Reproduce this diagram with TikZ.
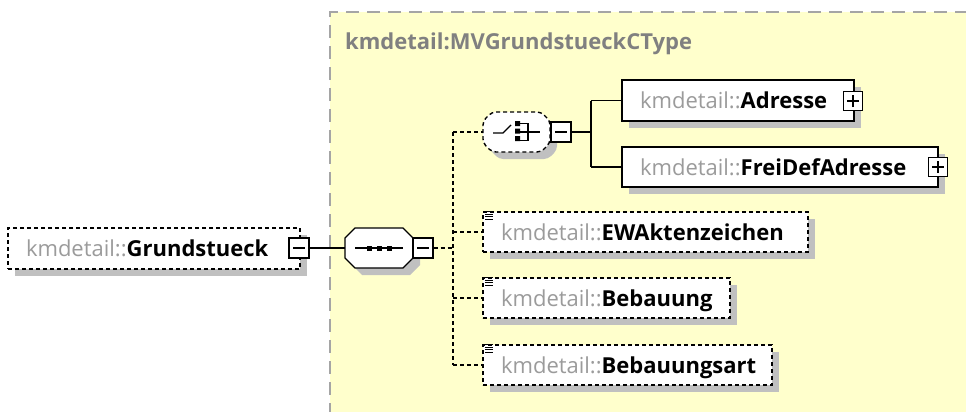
\documentclass[tikz,border=0pt]{standalone}
\usepackage{fontspec}
\setmainfont{Open Sans}
\usetikzlibrary{shadows}
\definecolor{bgyellow}{RGB}{255,255,204}
\definecolor{pfx}{RGB}{155,155,155}
\definecolor{ttl}{RGB}{128,128,128}
\definecolor{shd}{RGB}{192,192,192}
\definecolor{frm}{RGB}{165,165,165}
\newcommand\elname[1]{{\color{pfx}kmdetail::}\textbf{#1}}
\tikzset{
  shad/.style={drop shadow={shadow xshift=7pt,shadow yshift=-7pt,fill=shd,opacity=1}},
  elem/.style={rectangle,draw=black,line width=1.4pt,fill=white,shad,
    inner xsep=18pt,inner ysep=0pt,align=left,text height=16pt,text depth=0pt,
    font=\fontsize{22}{26}\selectfont},
  optelem/.style={elem,dash pattern=on 4pt off 3pt},
  pmbox/.style={rectangle,draw=black,line width=1.4pt,fill=white,minimum size=20pt,inner sep=0pt},
  conn/.style={line width=1.4pt},
  dconn/.style={line width=1.4pt,dash pattern=on 4pt off 3pt},
  ghost/.style={rectangle,inner sep=0pt},
}
\newcommand\minussign[1]{\draw[line width=1.4pt] ([xshift=-6pt]#1.center) -- ([xshift=6pt]#1.center);}
\newcommand\plussign[1]{\draw[line width=1.4pt] ([xshift=-6pt]#1.center) -- ([xshift=6pt]#1.center) ([yshift=-6pt]#1.center) -- ([yshift=6pt]#1.center);}
\newcommand\optmark[1]{\draw[line width=1pt] ([xshift=3pt,yshift=-0.5pt]#1.north west) -- +(8pt,0pt)
   ([xshift=3pt,yshift=-3pt]#1.north west) -- +(8pt,0pt)
   ([xshift=3pt,yshift=-5.5pt]#1.north west) -- +(8pt,0pt)
   ([xshift=3pt,yshift=-8pt]#1.north west) -- +(8pt,0pt);}
\begin{document}
\begin{tikzpicture}[x=1pt,y=-1pt]
\useasboundingbox (0,0) rectangle (966,412);
% yellow complex type area
\fill[bgyellow] (330,12) rectangle (970,416);
\draw[frm,line width=1.6pt,dash pattern=on 13pt off 8pt] (330,416) -- (330,12) -- (970,12);
\node[anchor=base west,text=ttl,font=\fontsize{22}{26}\selectfont\bfseries,inner sep=0pt] (title) at (345,50) {kmdetail:MVGrundstueckCType};

% root element
\node[optelem,minimum width=292pt,minimum height=41pt,text width=256pt] (grund) at (154,248.5) {\elname{Grundstueck}};
\node[pmbox] (grundpm) at (299,248) {};
\minussign{grundpm}

% sequence compositor
\fill[shd] (362,235) -- (410,235) -- (420,245) -- (420,265) -- (410,275) -- (362,275) -- (352,265) -- (352,245) -- cycle;
\node[ghost,minimum width=68pt,minimum height=40pt] (seq) at (379,248) {};
\filldraw[fill=white,line width=1.4pt] (355,228) -- (403,228) -- (413,238) -- (413,258) -- (403,268) -- (355,268) -- (345,258) -- (345,238) -- cycle;
\draw[line width=1.4pt] ([xshift=-24pt]seq.center) -- ([xshift=24pt]seq.center);
\foreach \dx in {-10,0,10}{\fill ([xshift=\dx pt-2.5pt,yshift=-2.5pt]seq.center) rectangle +(5pt,5pt);}
\node[pmbox] (seqpm) at (423,248) {};
\minussign{seqpm}

% choice compositor
\fill[shd,rounded corners=4pt] (499,119) -- (548,119) -- (557,128) -- (557,150) -- (548,159) -- (499,159) -- (490,150) -- (490,128) -- cycle;
\node[ghost,minimum width=67pt,minimum height=40pt] (choice) at (516.5,132) {};
\filldraw[fill=white,line width=1.4pt,dash pattern=on 4pt off 3pt,rounded corners=4pt] (492,112) -- (541,112) -- (550,121) -- (550,143) -- (541,152) -- (492,152) -- (483,143) -- (483,121) -- cycle;
\draw[line width=1.4pt] (493,133) -- (503,133) -- (511,125);
\fill (515,121) rectangle (520,126) (515,128.5) rectangle (520,133.5) (515,136) rectangle (520,141);
\draw[line width=1.4pt] (520,123.5) -- (528,123.5) -- (528,140.5) -- (520,140.5) (520,132) -- (540,132);
\node[pmbox] (choicepm) at (561,132) {};
\minussign{choicepm}

% choice children
\node[elem,minimum width=232pt,minimum height=41pt,text width=196pt] (adresse) at (738,100.5) {\elname{Adresse}};
\node[pmbox,minimum size=19pt] (adressepm) at (853,101) {};
\plussign{adressepm}
\node[elem,minimum width=316pt,minimum height=40pt,text width=280pt] (frei) at (780,167) {\elname{FreiDefAdresse}};
\node[pmbox,minimum size=19pt] (freipm) at (938,167) {};
\plussign{freipm}

% sequence children
\node[optelem,minimum width=325pt,minimum height=40pt,text width=289pt] (ew) at (645.5,232) {\elname{EWAktenzeichen}};
\optmark{ew}
\node[optelem,minimum width=247pt,minimum height=40pt,text width=211pt] (beb) at (606.5,298) {\elname{Bebauung}};
\optmark{beb}
\node[optelem,minimum width=289pt,minimum height=40pt,text width=253pt] (bebart) at (627.5,365) {\elname{Bebauungsart}};
\optmark{bebart}

% connectors
\coordinate (seqbus) at (453,248);
\coordinate (bustop) at (453,132);
\coordinate (busbot) at (453,365);
\coordinate (chbus) at (591,132);
\draw[conn] (grundpm.east) -- (seq.west);
\draw[dconn] (seqpm.east) -- (seqbus);
\draw[dconn] (bustop) -- (busbot);
\draw[dconn] (bustop) -- (choice.west);
\draw[dconn] (ew.west -| bustop) -- (ew.west);
\draw[dconn] (beb.west -| bustop) -- (beb.west);
\draw[dconn] (busbot) -- (bebart.west);
\draw[conn] (choicepm.east) -- (chbus);
\draw[conn] (adresse.west -| chbus) -- (frei.west -| chbus);
\draw[conn] (adresse.west -| chbus) -- (adresse.west);
\draw[conn] (frei.west -| chbus) -- (frei.west);
\end{tikzpicture}
\end{document}
